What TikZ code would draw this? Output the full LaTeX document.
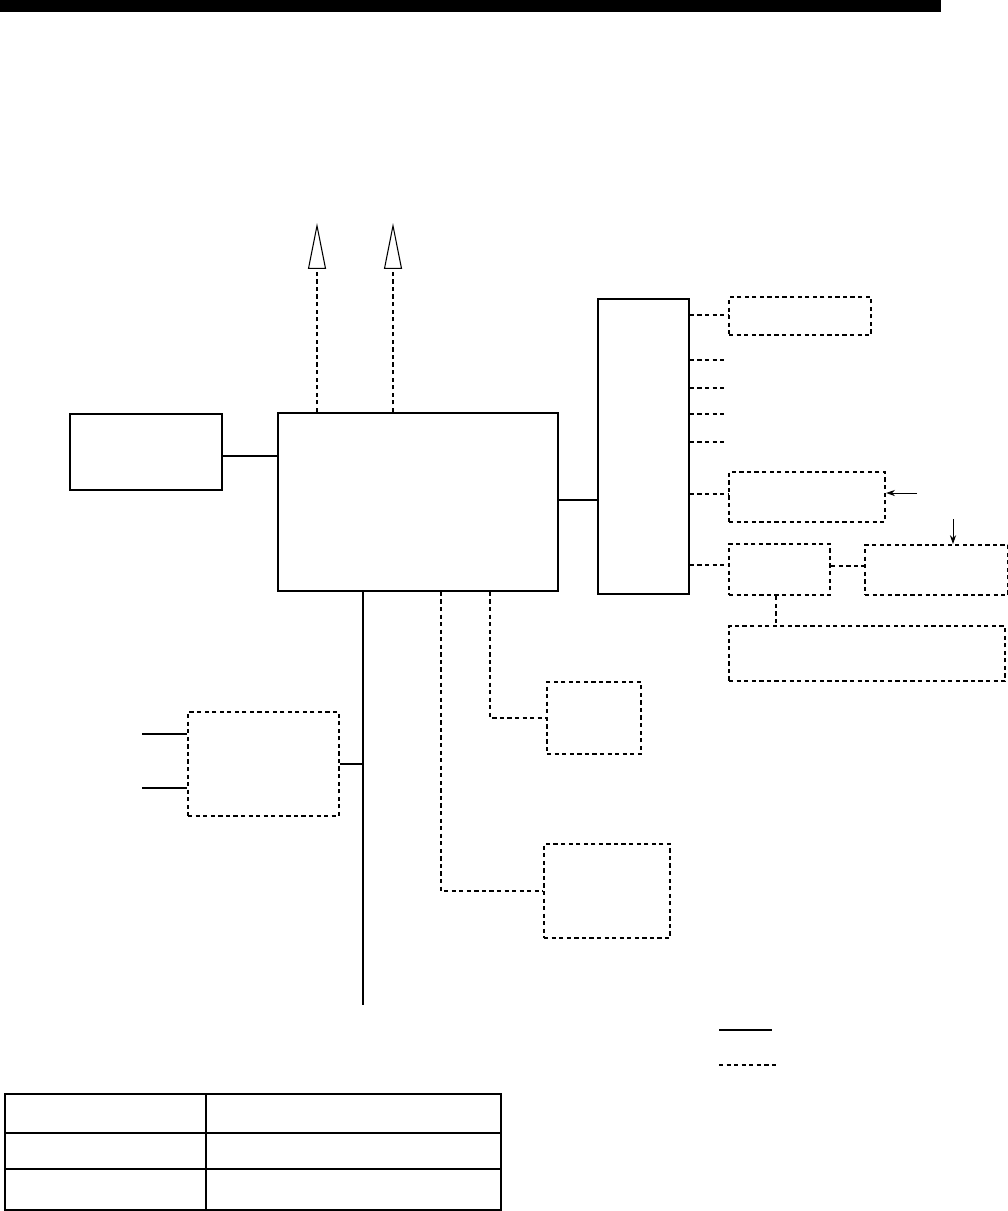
\documentclass[tikz,border=0pt]{standalone}
\usepackage{tikz}
\usetikzlibrary{arrows.meta}

\begin{document}
\begin{tikzpicture}[x=0.02cm, y=-0.02cm, >=Stealth,
    solidbox/.style={draw, line width=1.1pt, inner sep=0pt, anchor=north west},
    dashbox/.style={draw, line width=1.25pt, dash pattern=on 2.4pt off 1.9pt, inner sep=0pt, anchor=north west},
    wire/.style={line width=1.1pt},
    dwire/.style={line width=1.25pt, dash pattern=on 2.4pt off 1.9pt},
    thinarrow/.style={line width=0.5pt, -{Stealth[length=5pt, width=3.5pt]}},
    grid/.style={line width=0.8pt}]
  \useasboundingbox (0,0) rectangle (1008,1211);
  % header bar
  \fill (0,0) rectangle (941,12);

  % main units
  \node[solidbox, minimum width=5.6cm, minimum height=3.56cm] (ctrl) at (277,412) {};
  \node[solidbox, minimum width=3.04cm, minimum height=1.52cm] (disp) at (69,413) {};
  \node[solidbox, minimum width=1.82cm, minimum height=5.9cm] (bus) at (597,298) {};
  \draw[wire] (disp.east |- 0,456) -- (ctrl.west |- 0,456);
  \draw[wire] (ctrl.east |- 0,500) -- (bus.west |- 0,500);

  % outputs going up
  \foreach \x/\n in {317/upa, 393/upb} {
    \coordinate (\n) at (\x,223);
    \draw[dwire, -{Triangle[open, length=0.92cm, width=0.36cm, line width=0.6pt]}] (ctrl.north -| \n) -- (\n);
  }

  % options on the right of the bus unit
  \node[dashbox, minimum width=2.84cm, minimum height=0.76cm] (optA) at (728,296) {};
  \node[dashbox, minimum width=3.12cm, minimum height=1.0cm] (optB) at (728,471) {};
  \node[dashbox, minimum width=2.02cm, minimum height=1.02cm] (optC) at (728,543) {};
  \node[dashbox, minimum width=2.86cm, minimum height=1.0cm] (optD) at (864,544) {};
  \node[dashbox, minimum width=5.52cm, minimum height=1.1cm] (optE) at (728,625) {};
  \draw[dwire] (bus.east |- 0,315) -- (optA.west |- 0,315);
  \foreach \y/\n in {360/sa, 388/sb, 414/sc, 442/sd} {
    \coordinate (\n) at (727,\y);
    \draw[dwire] (bus.east |- \n) -- (\n);
  }
  \draw[dwire] (bus.east |- 0,494) -- (optB.west |- 0,494);
  \draw[dwire] (bus.east |- 0,565) -- (optC.west |- 0,565);
  \draw[dwire] (optC.east |- 0,566) -- (optD.west |- 0,566);
  \draw[dwire] (optC.south -| 776,0) -- (optE.north -| 776,0);
  \coordinate (inB) at (917,493);
  \coordinate (inD) at (953,519);
  \draw[thinarrow] (inB) -- (optB.east |- inB);
  \draw[thinarrow] (inD) -- (optD.north -| inD);

  % trunk below the main unit
  \coordinate (trunk) at (363,1005);
  \draw[wire] (ctrl.south -| trunk) -- (trunk);
  \node[dashbox, minimum width=3.02cm, minimum height=2.08cm] (sens) at (187,711) {};
  \draw[wire] (sens.east |- 0,764) -- (trunk |- 0,764);
  \foreach \y/\n in {734/ina, 788/inb} {
    \coordinate (\n) at (142,\y);
    \draw[wire] (\n) -- (sens.west |- \n);
  }

  % dashed branches
  \node[dashbox, minimum width=1.88cm, minimum height=1.44cm] (unitA) at (546,681) {};
  \node[dashbox, minimum width=2.52cm, minimum height=1.88cm] (unitB) at (543,843) {};
  \draw[dwire] (ctrl.south -| 490,0) |- (unitA.west |- 0,718);
  \draw[dwire] (ctrl.south -| 441,0) |- (unitB.west |- 0,891);

  % legend
  \coordinate (lga) at (719,1030);
  \coordinate (lgb) at (719,1065);
  \draw[wire] (lga) -- ++(53,0);
  \draw[dwire] (lgb) -- ++(58,0);

  % table
  \draw[grid] (5,1094) rectangle (501,1210);
  \draw[grid] (5,1133) -- (501,1133);
  \draw[grid] (5,1169) -- (501,1169);
  \draw[grid] (206,1094) -- (206,1210);
\end{tikzpicture}
\end{document}
